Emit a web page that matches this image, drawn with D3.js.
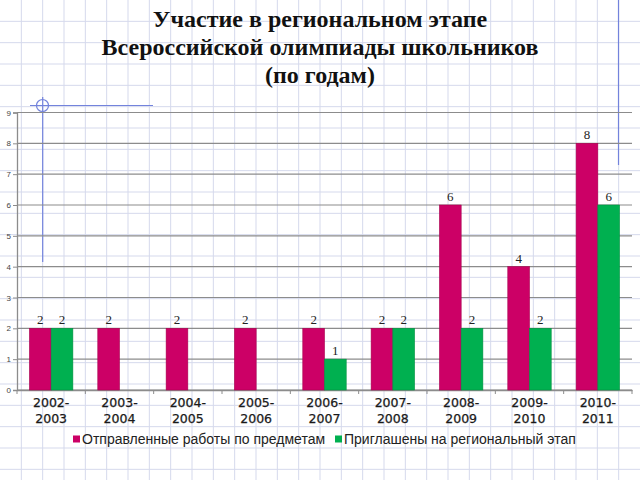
<!DOCTYPE html>
<html>
<head>
<meta charset="utf-8">
<script src="https://cdn.jsdelivr.net/npm/d3@7"></script>
<style>
  html, body { margin: 0; padding: 0; background: #fff; }
  svg { display: block; }
</style>
</head>
<body>
<svg id="chart" width="640" height="480"></svg>
<script>
// ---- data ----
const titleLines = ["Участие в региональном этапе", "Всероссийской олимпиады школьников", "(по годам)"];
const categories = ["2002-2003", "2003-2004", "2004-2005", "2005-2006", "2006-2007", "2007-2008", "2008-2009", "2009-2010", "2010-2011"];
const seriesNames = ["Отправленные работы по предметам", "Приглашены на региональный этап"];
const sentWorks = [2, 2, 2, 2, 2, 2, 6, 4, 8];
const invited = [2, null, null, null, 1, 2, 2, 2, 6];
const yTicks = [0, 1, 2, 3, 4, 5, 6, 7, 8, 9];
const colors = ["#cc0066", "#00b050"];

const W = 640, H = 480;
const svg = d3.select("#chart");

// ---- graph paper background ----
const paperStep = W / 30;
const bg = svg.append("g");
bg.append("rect").attr("width", W).attr("height", H).attr("fill", "#ffffff");
const vx = d3.range(paperStep, W, paperStep);
const hy = d3.range(paperStep, H, paperStep);
bg.selectAll("line.v").data(vx).join("line")
  .attr("x1", d => d).attr("x2", d => d).attr("y1", 0).attr("y2", H)
  .attr("stroke", "#d5d9ec").attr("stroke-width", 1);
bg.selectAll("line.h").data(hy).join("line")
  .attr("y1", d => d).attr("y2", d => d).attr("x1", 0).attr("x2", W)
  .attr("stroke", "#d5d9ec").attr("stroke-width", 1);

// blue margin lines
const pen = "#7383dc";
bg.append("line").attr("x1", 42.7).attr("x2", 42.7).attr("y1", 97).attr("y2", 262).attr("stroke", pen).attr("stroke-width", 1.2);
bg.append("line").attr("x1", 30).attr("x2", 153).attr("y1", 105.5).attr("y2", 105.5).attr("stroke", pen).attr("stroke-width", 1.2);
bg.append("circle").attr("cx", 42.5).attr("cy", 105.5).attr("r", 6).attr("fill", "none").attr("stroke", pen).attr("stroke-width", 1.2);
bg.append("line").attr("x1", 618.5).attr("x2", 618.5).attr("y1", 0).attr("y2", 165).attr("stroke", pen).attr("stroke-width", 1.2);

// ---- title ----
svg.append("g").selectAll("text").data(titleLines).join("text")
  .attr("x", 320).attr("y", (d, i) => 27 + i * 28)
  .attr("text-anchor", "middle")
  .attr("font-family", "'Liberation Serif', 'Times New Roman', serif")
  .attr("font-weight", "bold").attr("font-size", 24).attr("fill", "#111")
  .text(d => d);

// ---- scales ----
const x0 = d3.scaleBand().domain(categories).range([17, 632]).paddingInner(0).paddingOuter(0);
const x1 = d3.scaleBand().domain([0, 1]).range([0, x0.bandwidth()]).paddingInner(0).paddingOuter(0.574);
const y = d3.scaleLinear().domain([0, 9]).range([390, 112.5]);

// gridlines
svg.append("g").selectAll("line").data(yTicks).join("line")
  .attr("x1", 17).attr("x2", 632)
  .attr("y1", d => y(d)).attr("y2", d => y(d))
  .attr("stroke", "#8c8c8c").attr("stroke-width", 1.2);

// y axis
const yAxis = svg.append("g").attr("transform", "translate(17,0)")
  .call(d3.axisLeft(y).tickValues(yTicks).tickSize(4).tickPadding(2).tickFormat(d3.format("d")));
yAxis.select(".domain").attr("stroke", "#8c8c8c").attr("stroke-width", 1.3);
yAxis.selectAll(".tick line").attr("stroke", "#8c8c8c");
yAxis.selectAll(".tick text").attr("font-family", "'Liberation Sans', Arial, sans-serif").attr("font-size", 8).attr("fill", "#444");

// x axis
const xAxis = svg.append("g").attr("transform", `translate(0,${y(0)})`)
  .call(d3.axisBottom(x0).tickSize(0).tickFormat(""));
xAxis.select(".domain").attr("stroke", "#8c8c8c").attr("stroke-width", 1.3);
// boundary ticks
svg.append("g").selectAll("line").data(d3.range(categories.length + 1)).join("line")
  .attr("x1", i => 17 + i * x0.step()).attr("x2", i => 17 + i * x0.step())
  .attr("y1", y(0)).attr("y2", y(0) + 4)
  .attr("stroke", "#8c8c8c").attr("stroke-width", 1);

// x labels (two lines)
const xl = svg.append("g").selectAll("text").data(categories).join("text")
  .attr("text-anchor", "middle")
  .attr("font-family", "'DejaVu Sans', Verdana, sans-serif")
  .attr("font-size", 12.5).attr("fill", "#1a1a1a")
  .attr("stroke", "#1a1a1a").attr("stroke-width", 0.25);
xl.each(function(d) {
  const parts = d.split("-");
  const t = d3.select(this);
  const cx = x0(d) + x0.bandwidth() / 2;
  t.append("tspan").attr("x", cx).attr("y", 407.3).text(parts[0] + "-");
  t.append("tspan").attr("x", cx).attr("y", 422.7).text(parts[1]);
});

// ---- bars ----
const series = [sentWorks, invited];
const barData = [];
categories.forEach((c, i) => {
  series.forEach((s, j) => {
    if (s[i] !== null && s[i] !== undefined) barData.push({ c, j, v: s[i] });
  });
});
svg.append("g").selectAll("rect").data(barData).join("rect")
  .attr("x", d => x0(d.c) + x1(d.j))
  .attr("width", x1.bandwidth())
  .attr("y", d => y(d.v))
  .attr("height", d => y(0) - y(d.v))
  .attr("fill", d => colors[d.j])
  .attr("stroke", d => d.j === 0 ? "#a8004f" : "#009040")
  .attr("stroke-width", 0.6);

// value labels
svg.append("g").selectAll("text").data(barData).join("text")
  .attr("x", d => x0(d.c) + x1(d.j) + x1.bandwidth() / 2)
  .attr("y", d => y(d.v) - 4)
  .attr("text-anchor", "middle")
  .attr("font-family", "'Liberation Serif', 'Times New Roman', serif")
  .attr("font-size", 13).attr("fill", "#222")
  .text(d => d.v);

// ---- legend ----
const lg = svg.append("g");
const legendX = [73, 335];
seriesNames.forEach((n, i) => {
  lg.append("rect").attr("x", legendX[i]).attr("y", 435.5).attr("width", 7).attr("height", 7).attr("fill", colors[i]);
  lg.append("text").attr("x", legendX[i] + 9).attr("y", 444)
    .attr("font-family", "'Liberation Sans', Arial, sans-serif")
    .attr("font-size", 14).attr("fill", "#222").text(n);
});
</script>
</body>
</html>
